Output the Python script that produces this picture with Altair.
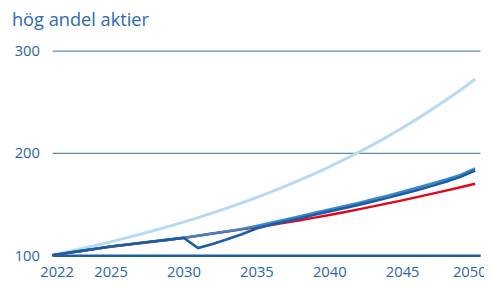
import altair as alt
import pandas as pd

years = list(range(2021, 2051))

light_blue = [100, 103.1, 106.3, 109.6, 113.0, 116.6, 120.3, 124.1, 128.1, 132.3,
              136.7, 141.3, 146.1, 151.1, 156.3, 161.8, 167.5, 173.5, 179.8, 186.4,
              193.3, 200.5, 208.1, 216.0, 224.3, 233.0, 242.1, 251.6, 261.5, 272.0]

red = [100, 102.0, 104.1, 106.2, 108.3, 110.0, 111.7, 113.4, 115.1, 116.8,
       119.0, 121.1, 123.2, 125.2, 127.3, 129.5, 131.8, 134.2, 136.7, 139.3,
       142.0, 144.8, 147.7, 150.6, 153.6, 156.7, 159.9, 163.1, 166.4, 169.8]

mid_blue = [100, 102.1, 104.2, 106.3, 108.4, 110.1, 111.8, 113.5, 115.2, 117.0,
            119.0, 121.1, 123.3, 125.6, 128.6, 131.7, 134.9, 138.1, 141.4, 144.6,
            147.8, 151.1, 154.6, 158.2, 161.9, 165.8, 169.8, 174.0, 178.4, 184.9]

dark_blue = [100, 102.1, 104.2, 106.3, 108.4, 110.1, 111.8, 113.5, 115.2, 117.0,
             107.0, 111.0, 115.5, 120.5, 126.0, 129.8, 132.9, 136.1, 139.4, 142.6,
             145.8, 149.1, 152.5, 156.0, 159.7, 163.5, 167.5, 171.8, 176.5, 182.6]

series_names = ["Ljusblå", "Röd", "Mellanblå", "Mörkblå"]
series_values = [light_blue, red, mid_blue, dark_blue]
series_colors = ["#b7d9f3", "#e3051b", "#3d86cb", "#1a5da4"]
series_widths = [3, 2.5, 2.6, 2.6]

tick_positions = [2021.3, 2025, 2030, 2035, 2040, 2045, 2049.6]
tick_labels = ["2022", "2025", "2030", "2035", "2040", "2045", "2050"]
y_ticks = [100, 200, 300]

subtitle = "hög andel aktier"

rows = []
for i, (name, vals) in enumerate(zip(series_names, series_values)):
    for y, v in zip(years, vals):
        rows.append({"year": y, "value": v, "series": name, "order": i})
df = pd.DataFrame(rows)

label_map = "{" + ",".join(f"'{p}':'{l}'" for p, l in zip(tick_positions, tick_labels)) + "}"

x_enc = alt.X(
    "year:Q",
    scale=alt.Scale(domain=[2021, 2050.34], nice=False, zero=False),
    axis=alt.Axis(
        values=tick_positions,
        labelExpr=f"{label_map}[toString(datum.value)]",
        grid=False, ticks=False, domain=True,
        domainColor="#1a5ea6", domainWidth=2.5,
        labelColor="#2a64a8", labelFontSize=15, labelFont="Open Sans",
        labelPadding=10, title=None, labelFlush=False, labelOverlap=False,
    ),
)
y_enc = alt.Y(
    "value:Q",
    scale=alt.Scale(domain=[100, 300], nice=False, zero=False),
    axis=alt.Axis(
        values=y_ticks, grid=True, gridColor="#5a8bbf", gridWidth=1.3,
        ticks=False, domain=False,
        labelColor="#2a64a8", labelFontSize=15, labelFont="Open Sans",
        labelPadding=13, title=None,
    ),
)

layers = []
for name, col, w in zip(series_names, series_colors, series_widths):
    layers.append(
        alt.Chart(df[df.series == name])
        .mark_line(color=col, strokeWidth=w, clip=False)
        .encode(x=x_enc, y=y_enc)
    )

title_df = pd.DataFrame({"text": [subtitle]})
title_layer = (
    alt.Chart(title_df)
    .mark_text(align="left", baseline="alphabetic", font="Open Sans",
               fontSize=18.5, color="#2a6ab0")
    .encode(text="text:N", x=alt.value(-41), y=alt.value(-25))
)
layers.append(title_layer)

chart = (
    alt.layer(*layers, view=alt.ViewBackground(stroke=None, strokeWidth=0))
    .properties(
        width=435,
        height=208,
        autosize=alt.AutoSizeParams(type="none"),
        padding={"left": 45, "top": 41, "right": 4, "bottom": 26},
    )
    .configure_view(strokeWidth=0, stroke=None)
    .configure_axisY(domain=False)
    .configure_axisX(grid=False)
    .configure(background="white")
)

chart.save("out.html", embed_options={"renderer": "svg", "actions": False})
